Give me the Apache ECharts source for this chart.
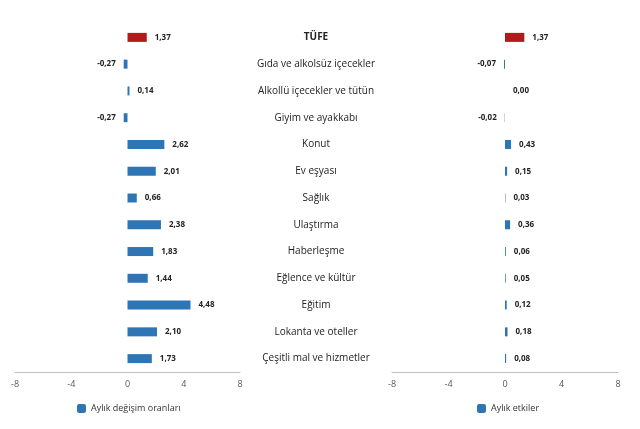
<!DOCTYPE html>
<html><head><meta charset="utf-8">
<script src="https://cdn.jsdelivr.net/npm/echarts@6/dist/echarts.min.js"></script>
<style>html,body{margin:0;padding:0;background:#fff}#c{width:640px;height:429px}</style>
</head><body><div id="c"></div>
<script>
const categories=["TÜFE","Gıda ve alkolsüz içecekler","Alkollü içecekler ve tütün","Giyim ve ayakkabı","Konut","Ev eşyası","Sağlık","Ulaştırma","Haberleşme","Eğlence ve kültür","Eğitim","Lokanta ve oteller","Çeşitli mal ve hizmetler"];
const changeRates=[1.37,-0.27,0.14,-0.27,2.62,2.01,0.66,2.38,1.83,1.44,4.48,2.10,1.73];
const effects=[1.37,-0.07,0.00,-0.02,0.43,0.15,0.03,0.36,0.06,0.05,0.12,0.18,0.08];
const xTicks=[-8,-4,0,4,8];
const blue='#2e75b6', red='#b01c1c';
function mk(vals){return vals.map((v,i)=>({value:v,itemStyle:{color:i===0?red:blue},label:{position:v<0?'left':'right'}}));}
const xa=(gi)=>({gridIndex:gi,type:'value',min:-8,max:8,interval:4,splitLine:{show:false},
  axisLine:{show:true,lineStyle:{color:'#bfbfbf'}},axisTick:{show:false},
  axisLabel:{color:'#595959',fontSize:9,fontFamily:'Open Sans',margin:8}});
const ya=(gi,show)=>({gridIndex:gi,type:'category',inverse:true,data:categories,position:'right',
  axisLine:{show:false},axisTick:{show:false},
  axisLabel:{show:show,align:'center',margin:76,color:'#222',fontSize:10,fontFamily:'Open Sans',
    formatter:(v)=>v==='TÜFE'?'{b|'+v+'}':v,rich:{b:{fontWeight:'bold',fontSize:10,color:'#222'}}}});
const lbl={show:true,fontSize:8,fontWeight:'bold',color:'#222',distance:8,fontFamily:'Open Sans',formatter:(p)=>p.value.toFixed(2).replace('.',',')};
const chart=echarts.init(document.getElementById('c'));
chart.setOption({
  animation:false,
  grid:[{left:15,right:400,top:24,bottom:57},{left:392,right:22,top:24,bottom:57}],
  xAxis:[xa(0),xa(1)],
  yAxis:[ya(0,true),ya(1,false)],
  legend:[{data:['Aylık değişim oranları'],left:72,top:399,itemWidth:9,itemHeight:9,textStyle:{fontSize:9,color:'#333',fontFamily:'Open Sans'}},
          {data:['Aylık etkiler'],left:472,top:399,itemWidth:9,itemHeight:9,textStyle:{fontSize:9,color:'#333',fontFamily:'Open Sans'}}],
  series:[
    {name:'Aylık değişim oranları',type:'bar',xAxisIndex:0,yAxisIndex:0,data:mk(changeRates),barWidth:9,itemStyle:{color:blue},label:lbl},
    {name:'Aylık etkiler',type:'bar',xAxisIndex:1,yAxisIndex:1,data:mk(effects),barWidth:9,itemStyle:{color:blue},label:lbl}
  ]
});
</script></body></html>
